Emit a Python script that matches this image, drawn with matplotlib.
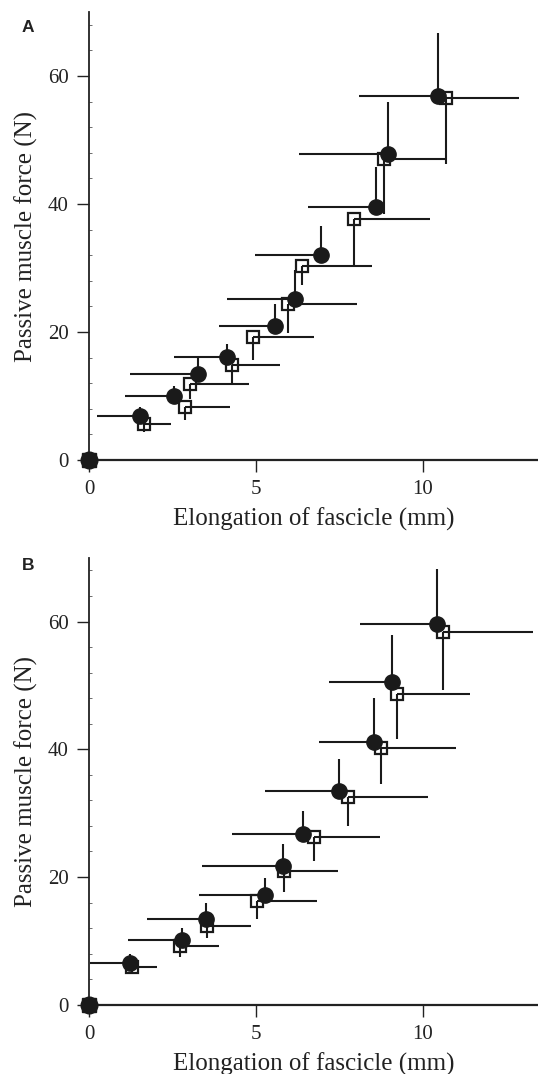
import matplotlib
matplotlib.use("Agg")
import matplotlib.pyplot as plt
import numpy as np
from matplotlib.ticker import MultipleLocator

# Panel A data
a_circ_x = [1.53, 2.54, 3.27, 4.14, 5.58, 6.17, 6.96, 8.61, 8.96, 10.44]
a_circ_y = [6.9, 10.0, 13.5, 16.1, 21.0, 25.2, 32.1, 39.6, 47.8, 56.9]
a_circ_xlo = [1.30, 1.46, 2.04, 1.60, 1.69, 2.05, 1.99, 2.04, 2.66, 2.35]
a_circ_yhi = [1.4, 1.6, 2.5, 2.1, 3.3, 4.5, 4.4, 6.2, 8.2, 9.8]

a_sq_x = [1.66, 2.87, 3.03, 4.29, 4.92, 5.97, 6.39, 7.94, 8.83, 10.69]
a_sq_y = [5.6, 8.3, 11.9, 14.8, 19.2, 24.4, 30.3, 37.6, 47.0, 56.5]
a_sq_xhi = [0.80, 1.35, 1.77, 1.43, 1.83, 2.06, 2.09, 2.26, 1.86, 2.18]
a_sq_ylo = [1.3, 2.05, 2.4, 3.1, 3.5, 4.5, 3.0, 7.4, 8.5, 10.25]

# Panel B data
b_circ_x = [1.23, 2.80, 3.49, 5.28, 5.82, 6.40, 7.49, 8.53, 9.09, 10.41]
b_circ_y = [6.6, 10.1, 13.4, 17.2, 21.7, 26.8, 33.4, 41.2, 50.6, 59.6]
b_circ_xlo = [1.20, 1.64, 1.74, 1.99, 2.43, 2.11, 2.22, 1.64, 1.90, 2.28]
b_circ_yhi = [1.3, 1.9, 2.5, 2.7, 3.4, 3.6, 5.1, 6.8, 7.3, 8.6]

b_sq_x = [1.30, 2.72, 3.54, 5.02, 5.85, 6.74, 7.75, 8.74, 9.24, 10.59]
b_sq_y = [5.95, 9.2, 12.3, 16.2, 21.0, 26.2, 32.5, 40.2, 48.7, 58.3]
b_sq_xhi = [0.73, 1.18, 1.30, 1.82, 1.61, 1.97, 2.39, 2.25, 2.17, 2.7]
b_sq_ylo = [0.95, 1.7, 1.9, 2.8, 3.3, 3.7, 4.5, 5.7, 7.1, 9.0]

x_ticks = [0, 5, 10]
y_ticks = [0, 20, 40, 60]
xlabel = "Elongation of fascicle (mm)"
ylabel = "Passive muscle force (N)"

plt.rcParams['font.family'] = ['Liberation Serif', 'DejaVu Serif']

W, H = 538, 1074
fig = plt.figure(figsize=(W / 100, H / 100), dpi=100)
INK = '#1a1a1a'

def panel(rect, cx, cy, cxlo, cyhi, sx, sy, sxhi, sylo):
    ax = fig.add_axes(rect)
    n = len(cx)
    # squares (open), error bars to right and down
    ax.errorbar(sx, sy, xerr=[np.zeros(n), sxhi], yerr=[sylo, np.zeros(n)],
                fmt='s', ms=9, mfc='none', mec=INK, mew=1.6,
                ecolor=INK, elinewidth=1.5, capsize=0, zorder=3)
    # circles (filled), error bars to left and up
    ax.errorbar(cx, cy, xerr=[cxlo, np.zeros(n)], yerr=[np.zeros(n), cyhi],
                fmt='o', ms=11, mfc=INK, mec=INK,
                ecolor=INK, elinewidth=1.5, capsize=0, zorder=4)
    # origin point
    ax.plot([0], [0], 's', ms=10, color=INK, clip_on=False, zorder=6)
    ax.plot([0], [0], 'o', ms=12, color=INK, clip_on=False, zorder=6)
    ax.set_xlim(0, 13.45)
    ax.set_ylim(0, 70)
    for s in ['top', 'right']:
        ax.spines[s].set_visible(False)
    ax.spines['left'].set_linewidth(1.3)
    ax.spines['bottom'].set_linewidth(1.6)
    ax.spines['left'].set_color('#222222')
    ax.spines['bottom'].set_color('#222222')
    ax.set_xticks(x_ticks)
    ax.set_yticks(y_ticks)
    ax.yaxis.set_minor_locator(MultipleLocator(4))
    ax.tick_params(axis='both', which='major', direction='out', length=8.5,
                   width=1.0, labelsize=15, colors='#222222')
    ax.tick_params(axis='y', which='major', pad=6)
    ax.tick_params(axis='x', which='major', pad=6)
    ax.tick_params(axis='y', which='minor', direction='in', length=2.5,
                   width=0.6, colors='#555555')
    ax.set_xlabel(xlabel, fontsize=18, color='#222222', labelpad=6)
    ax.set_ylabel(ylabel, fontsize=18, color='#222222', labelpad=7)
    return ax

axA = panel([89 / W, 1 - 460 / H, 1 - 89 / W, 448 / H],
            a_circ_x, a_circ_y, a_circ_xlo, a_circ_yhi,
            a_sq_x, a_sq_y, a_sq_xhi, a_sq_ylo)
axB = panel([89 / W, 1 - 1004.7 / H, 1 - 89 / W, 447 / H],
            b_circ_x, b_circ_y, b_circ_xlo, b_circ_yhi,
            b_sq_x, b_sq_y, b_sq_xhi, b_sq_ylo)

fig.text(28 / W, 1 - 27 / H, 'A', fontsize=12.5, fontweight='bold',
         family=['Liberation Sans', 'DejaVu Sans'], ha='center', va='center',
         color='#222222')
fig.text(28 / W, 1 - 565 / H, 'B', fontsize=12.5, fontweight='bold',
         family=['Liberation Sans', 'DejaVu Sans'], ha='center', va='center',
         color='#222222')

fig.savefig('out.png', dpi=100)
